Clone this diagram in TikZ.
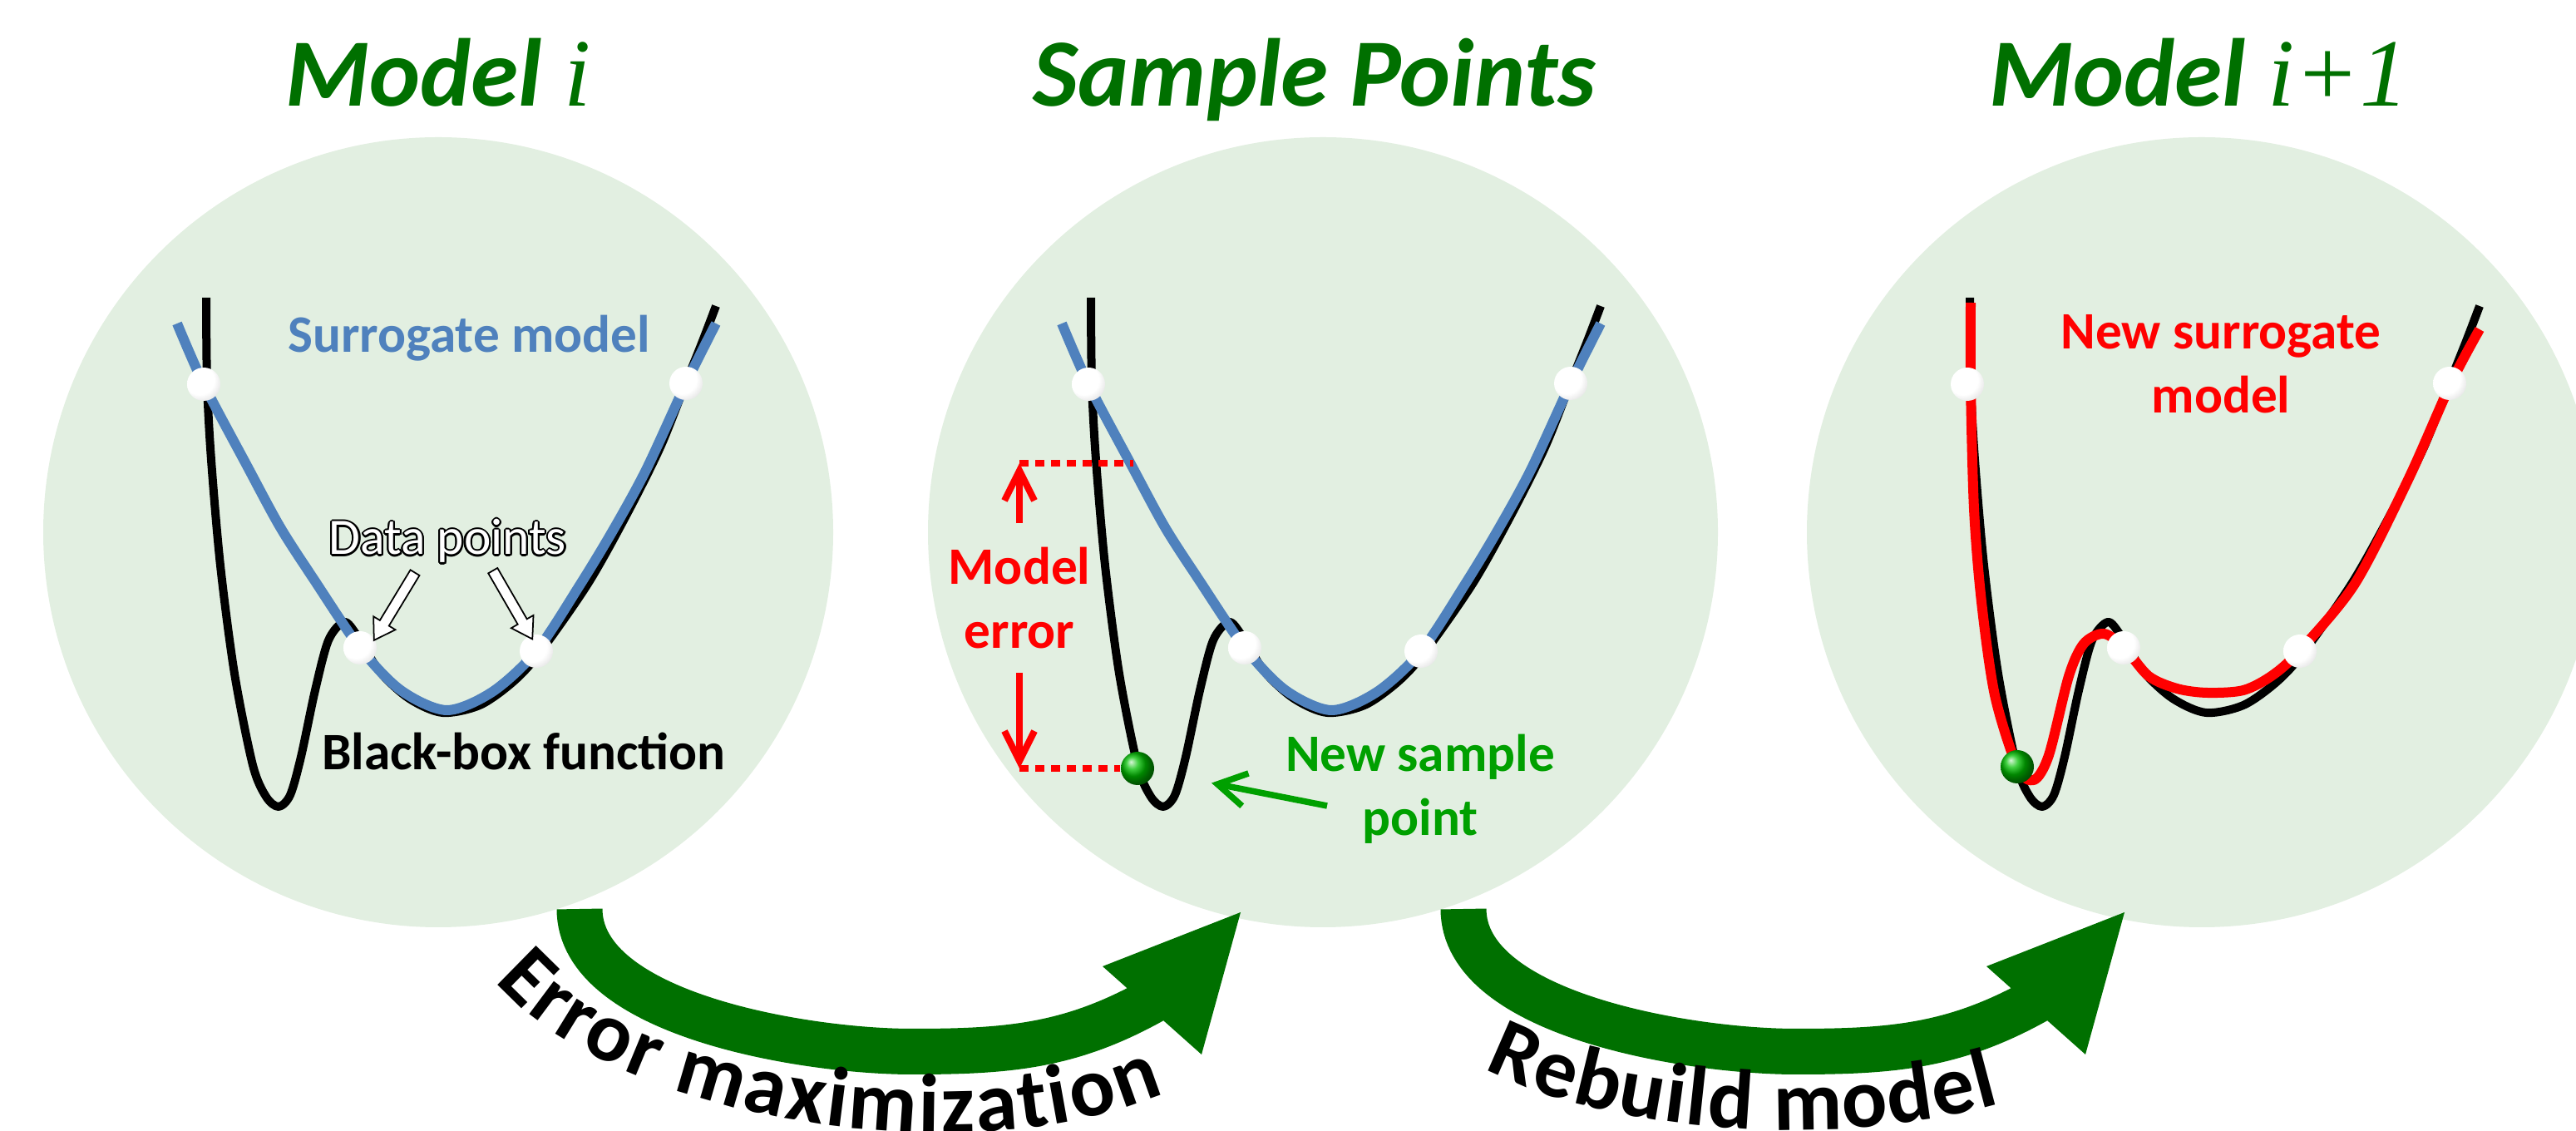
\documentclass[tikz,border=0pt]{standalone}
\usepackage{fontspec}
\setmainfont{Carlito}
\newfontfamily\serifit{Liberation Serif}
\usepackage{contour}
\contourlength{0.6pt}
\usetikzlibrary{arrows.meta, shapes.arrows, decorations.text, calc}

\definecolor{panelbg}{RGB}{226,239,225}
\definecolor{titlegreen}{RGB}{0,112,0}
\definecolor{labelgreen}{RGB}{0,160,0}
\definecolor{surblue}{RGB}{79,129,189}

% soft white sphere for the data points
\pgfdeclareradialshading{pearl}{\pgfpoint{-10bp}{10bp}}{color(0bp)=(white); color(22bp)=(white); color(45bp)=(black!22); color(60bp)=(black!45)}

\newcommand{\lblfont}{\fontsize{18}{22}\selectfont\bfseries}
\newcommand{\bigtxt}{\fontsize{29}{34}\selectfont\bfseries}

\tikzset{
  panel/.style={fill=panelbg},
  title/.style={anchor=base, text=titlegreen, font=\fontsize{33}{40}\selectfont\bfseries\itshape},
  blackfn/.style={line width=0.1cm, black, line join=round},
  surfn/.style={line width=0.12cm, surblue, line join=round},
  newfn/.style={line width=0.12cm, red, line join=round},
  datapt/.style={circle, inner sep=0pt, minimum size=0.4cm, shade, shading=pearl},
  newpt/.style={circle, inner sep=0pt, minimum size=0.4cm, shade, ball color=green!75!black},
  lbl/.style={font=\lblfont},
  hollowarrow/.style={single arrow, draw=black, fill=white, line width=0.5pt, minimum height=0.95cm,
    inner sep=0.055cm, single arrow head extend=0.09cm, single arrow tip angle=65},
  errarrow/.style={red, line width=0.08cm, -{Straight Barb[length=0.36cm, width=0.36cm]}},
  errdots/.style={red, line width=0.08cm, dash pattern=on 0.11cm off 0.08cm},
  ptrarrow/.style={labelgreen, line width=0.075cm, -{Straight Barb[length=0.34cm, width=0.4cm]}},
  bigarrow/.style={line width=0.55cm, titlegreen},
}

\begin{document}
\begin{tikzpicture}
  \useasboundingbox (0,0) rectangle (30.98,13.60);

  % panels and the black-box function
  \foreach \cx in {5.27,15.91,26.48} {
    \fill[panel] (\cx,7.2) circle (4.75);
    \draw[blackfn, shift={(\cx,7.2)}] plot[smooth] coordinates {(-2.79,2.82) (-2.78,1.80) (-2.73,0.87) (-2.62,-0.40) (-2.45,-1.70) (-2.23,-2.80) (-2.07,-3.18) (-1.92,-3.30) (-1.78,-3.16) (-1.65,-2.70) (-1.48,-1.90) (-1.32,-1.30) (-1.13,-1.08) (-0.97,-1.25) (-0.70,-1.68) (-0.35,-2.00) (0.05,-2.17) (0.50,-2.08) (0.90,-1.80) (1.22,-1.45) (1.80,-0.62) (2.26,0.20) (2.67,1.02) (2.98,1.80) (3.18,2.30) (3.34,2.72)};
  }

  % surrogate models
  \foreach \cx in {5.27,15.91}
    \draw[surfn, shift={(\cx,7.2)}] plot[smooth] coordinates {(-3.14,2.51) (-2.82,1.78) (-2.30,0.80) (-1.90,0.06) (-1.50,-0.56) (-0.94,-1.39) (-0.45,-1.90) (0.10,-2.14) (0.65,-1.92) (1.18,-1.43) (1.70,-0.64) (2.10,0.02) (2.50,0.75) (2.98,1.79) (3.34,2.51)};
  \draw[newfn, shift={(26.48,7.2)}] plot[smooth] coordinates {(-2.78,2.76) (-2.78,1.78) (-2.74,0.28) (-2.65,-0.84) (-2.49,-1.96) (-2.22,-2.82) (-2.02,-2.98) (-1.84,-2.68) (-1.60,-1.73) (-1.42,-1.34) (-1.18,-1.22) (-0.94,-1.38) (-0.64,-1.73) (-0.30,-1.88) (0.06,-1.93) (0.50,-1.90) (0.85,-1.72) (1.18,-1.42) (1.84,-0.62) (2.48,0.63) (3.00,1.80) (3.34,2.44)};

  % data points
  \foreach \cx/\p in {5.27/a,15.91/b,26.48/c}
    \foreach \x/\y/\k in {-2.82/1.78/1, -0.94/-1.39/2, 1.18/-1.43/3, 2.98/1.79/4}
      \node[datapt] (dot\p\k) at ({\cx+\x},{7.2+\y}) {};
  \node[newpt] (gdot) at (13.68,4.36) {};
  \node[newpt] (gdot2) at (24.26,4.38) {};

  % titles
  \node[title] (ttl1) at (5.27,12.32) {Model {\serifit\mdseries\itshape i}};
  \node[title] (ttl2) at (15.81,12.32) {Sample Points};
  \node[title] (ttl3) at (26.44,12.32) {Model {\serifit\mdseries\itshape i+1}};

  % left panel labels
  \node[lbl, anchor=base, text=surblue] (surlbl) at (5.64,9.36) {Surrogate model};
  \node[anchor=base, text=white, font=\fontsize{17.5}{21}\selectfont] (dlbl) at (5.385,6.93) {\contour{black}{Data points}};
  \node[hollowarrow, rotate=238.8] (darr1) at (4.77,6.35) {};
  \node[hollowarrow, rotate=300] (darr2) at (6.14,6.37) {};
  \node[lbl, anchor=base] (bblbl) at (6.30,4.34) {Black-box function};

  % model error
  \node[lbl, align=center, text=red, inner sep=0.28cm] (errlbl) at (12.26,6.41) {Model\\error};
  \coordinate (errtop) at (12.26,8.03);
  \coordinate (errbot) at (12.26,4.36);
  \coordinate (bluehit) at (13.63,8.03);
  \draw[errarrow] (errlbl.north) -- (errtop);
  \draw[errarrow] (errlbl.south) -- (errbot);
  \draw[errdots] (errtop) -- (bluehit);
  \draw[errdots] (errbot) -- (gdot.west);

  % new sample point
  \node[lbl, align=center, text=labelgreen] (newlbl) at (17.08,4.11) {New sample\\point};
  \coordinate (gtail) at (15.96,3.91);
  \draw[ptrarrow, shorten >=0.7cm] (gtail) -- (gdot);

  % right panel label
  \node[lbl, align=center, text=red] (newsur) at (26.71,9.22) {New surrogate\\model};

  % big arrows between panels
  \foreach \s in {0,10.63} {
    \begin{scope}[xshift=\s cm]
      \draw[bigarrow] (6.97,2.67) to[out=-90,in=180,looseness=0.75] (10.97,0.955) to[out=0,in=210] (13.95,1.62);
      \fill[titlegreen] (13.26,1.98) -- (14.92,2.63) -- (14.45,0.92) -- cycle;
    \end{scope}
  }
  \path[decorate, decoration={text along path, text align=fit to path, text={|\bigtxt|Error maximization}}]
    (5.95,1.80) .. controls (7.3,0.2) and (11.5,-0.6) .. (14.0,0.45);
  \path[decorate, decoration={text along path, text align=fit to path, text={|\bigtxt|Rebuild model}}]
    (17.85,0.75) .. controls (19.3,0.0) and (22.0,-0.25) .. (24.05,0.33);
\end{tikzpicture}
\end{document}
